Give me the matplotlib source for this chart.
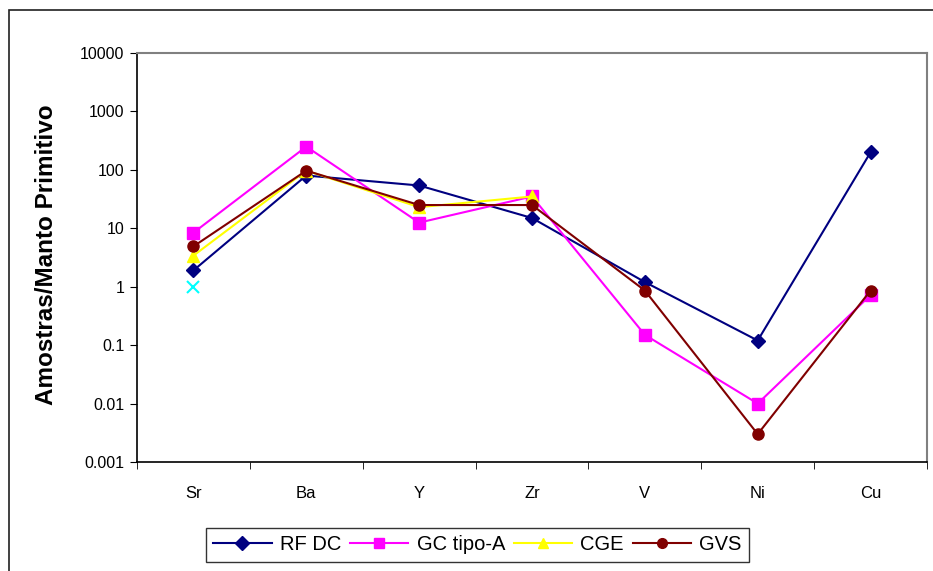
import numpy as np
import matplotlib.pyplot as plt
from matplotlib.patches import Rectangle
from matplotlib.ticker import FixedLocator, NullLocator

plt.rcParams['font.family'] = ['Liberation Sans', 'DejaVu Sans']

elements = ['Sr', 'Ba', 'Y', 'Zr', 'V', 'Ni', 'Cu']
rf_dc = [1.9, 80, 54, 15, 1.2, 0.12, 200]
gc_tipo_a = [8.4, 250, 12.5, 35, 0.15, 0.01, 0.72]
cge = [3.4, 97, 23, 35, np.nan, np.nan, np.nan]
gvs = [4.9, 97, 25, 25, 0.86, 0.003, 0.86]
extra = [1.0, np.nan, np.nan, np.nan, np.nan, np.nan, np.nan]

y_ticks = [0.001, 0.01, 0.1, 1, 10, 100, 1000, 10000]
y_labels = ['0.001', '0.01', '0.1', '1', '10', '100', '1000', '10000']

W, H = 933, 571
fig = plt.figure(figsize=(W / 100, H / 100), dpi=100)

# outer chart frame (cropped at right/bottom)
fig.patches.append(Rectangle((9 / W, -0.05), 1.1, 1 - 10 / H + 0.05,
                             transform=fig.transFigure, fill=False,
                             edgecolor='#202020', linewidth=1.2))

ax = fig.add_axes([137 / W, 1 - 462 / H, (927 - 137) / W, (462 - 53) / H])
x = np.arange(len(elements))

ax.plot(x, rf_dc, color='#000080', marker='D', markersize=7, linewidth=1.5, label='RF DC', zorder=3)
ax.plot(x, gc_tipo_a, color='#FF00FF', marker='s', markersize=8, linewidth=1.5, label='GC tipo-A', zorder=3)
ax.plot(x, cge, color='#FFFF00', marker='^', markersize=8, linewidth=1.5, label='CGE', zorder=3)
ax.plot(x, gvs, color='#800000', marker='o', markersize=8, linewidth=1.5, label='GVS', zorder=4)
ax.plot(x, extra, color='#00FFFF', marker='x', markersize=9, markeredgewidth=1.5, linestyle='none', zorder=3)

ax.set_yscale('log')
ax.set_ylim(0.001, 10000)
ax.yaxis.set_major_locator(FixedLocator(y_ticks))
ax.yaxis.set_minor_locator(NullLocator())
ax.set_yticklabels(y_labels, fontsize=11.5)

ax.set_xlim(-0.5, len(elements) - 0.5)
ax.set_xticks(x)
ax.set_xticklabels(elements, fontsize=12)
ax.tick_params(axis='x', length=0, pad=17)
ax.set_xticks(np.arange(len(elements) + 1) - 0.5, minor=True)
ax.tick_params(axis='x', which='minor', length=5, direction='out')
ax.tick_params(axis='y', length=5, direction='out', pad=4)

for s in ['left', 'bottom']:
    ax.spines[s].set_color('black')
    ax.spines[s].set_linewidth(1.2)
for s in ['top', 'right']:
    ax.spines[s].set_color('#808080')
    ax.spines[s].set_linewidth(1.5)

fig.text(47 / W, 1 - 255 / H, 'Amostras/Manto Primitivo', rotation=90,
         fontsize=17.5, fontweight='bold', ha='center', va='center')

leg = fig.legend(loc='center', bbox_to_anchor=((200 + 755) / 2 / W, 1 - 545 / H),
                 ncol=4, fontsize=14.5, frameon=True, fancybox=False,
                 edgecolor='black', handlelength=2.9, handletextpad=0.4,
                 columnspacing=0.45, borderpad=0.35)
leg.get_frame().set_linewidth(1.0)
for h in leg.legend_handles:
    h.set_markersize(7)

fig.savefig('out.png', dpi=100)
